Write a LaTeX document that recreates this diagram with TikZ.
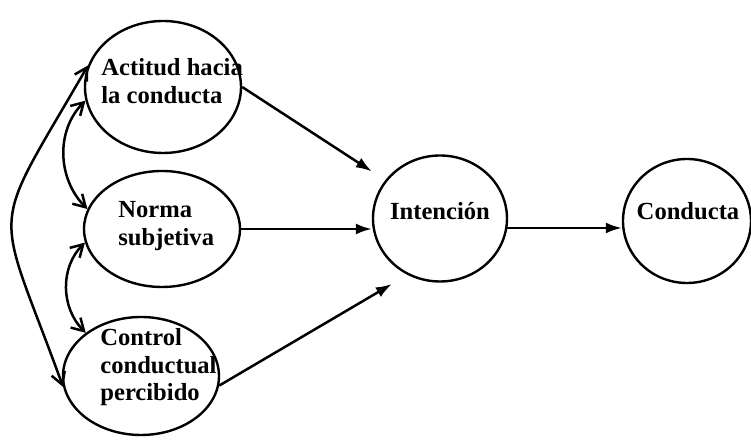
\documentclass[tikz,border=0pt]{standalone}
\usepackage{fontspec}
\setmainfont{Liberation Serif}
\usetikzlibrary{arrows.meta,shapes.geometric}
\tikzset{
  oval/.style={draw,ellipse,line width=1.2pt,inner sep=0pt},
  txt/.style={font=\fontsize{12.3}{13.8}\selectfont\bfseries,inner sep=0pt},
  flecha/.style={-{Latex[length=8pt,width=5.5pt]},line width=1.25pt},
  doble/.style={{Straight Barb[length=6pt,width=7pt]}-{Straight Barb[length=6pt,width=7pt]},line width=1.25pt}
}
\begin{document}
\begin{tikzpicture}[x=5pt,y=5pt]
            \useasboundingbox (0,0) rectangle (75.1,-44.2);
            \node[oval,minimum width=78pt,minimum height=66pt] (act) at (16.3,-8.7) {};   % actitud
            \node[oval,minimum width=78pt,minimum height=58pt] (nor) at (16.2,-22.9) {};  % norma
            \node[oval,minimum width=78pt,minimum height=59pt] (ctl) at (14.1,-37.6) {};  % control
            \node[oval,minimum width=67pt,minimum height=63pt] (int) at (44.0,-21.85) {};
            \node[oval,minimum width=64pt,minimum height=62pt] (con) at (68.7,-22.1) {};
            \node[txt,align=left,anchor=north west] (tact) at (10.1,-5.8) {Actitud hacia\\la conducta};
            \node[txt,align=left,anchor=north west] (tnor) at (11.8,-20.1) {Norma\\subjetiva};
            \node[txt,align=left,anchor=north west] (tctl) at (10.0,-32.8) {Control\\conductual\\percibido};
            \node[txt,anchor=base] (tint) at (44.0,-22.0) {Intención};
            \node[txt,anchor=base] (tcon) at (68.8,-22.0) {Conducta};
            \draw[flecha,shorten >=8pt] (act.east) -- (int.145);
            \draw[flecha] (nor.east) -- (nor.east -| int.west);
            \draw[flecha,shorten >=9pt] (ctl.-7) -- (int.240);
            \draw[flecha] (int.-8) -- (int.-8 -| con.west);
            \draw[doble] (act.190) to[out=225,in=135] (nor.165);
            \draw[doble] (nor.190) to[out=225,in=135] (ctl.142);
            \draw[doble] (act.164) to[out=240,in=110,looseness=1.6] (ctl.188);
        \end{tikzpicture}
\end{document}
